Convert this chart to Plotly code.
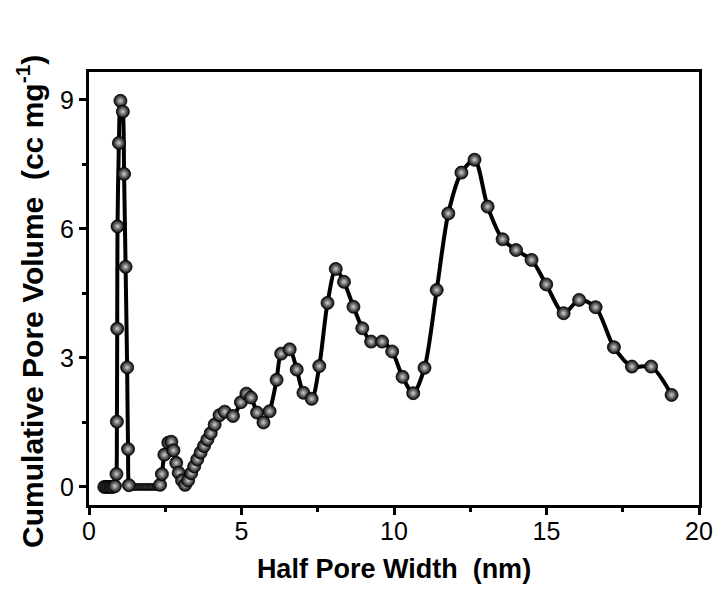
import plotly.graph_objects as go

# Main series: half pore width (nm) vs cumulative pore volume (cc mg^-1)
width_nm = [0.50, 0.57, 0.64, 0.71, 0.78, 0.85, 0.90, 0.915, 0.925, 0.935, 0.98, 1.03,
            1.11, 1.15, 1.20, 1.25, 1.28, 1.31,
            2.33, 2.39, 2.47, 2.60, 2.70, 2.77, 2.86, 2.94, 3.05, 3.15, 3.25, 3.35, 3.45,
            3.55, 3.66, 3.77, 3.88, 3.99, 4.12, 4.28, 4.45, 4.72, 4.98, 5.16, 5.31, 5.51,
            5.72, 5.92, 6.15, 6.30, 6.58, 6.81, 7.03, 7.30, 7.55, 7.82, 8.09, 8.36, 8.67,
            8.96, 9.25, 9.61, 9.94, 10.28, 10.63, 11.00, 11.40, 11.78, 12.21, 12.64, 13.07,
            13.56, 14.00, 14.51, 14.99, 15.56, 16.07, 16.61, 17.21, 17.80, 18.43, 19.10]
volume = [0.0, 0.0, 0.0, 0.0, 0.0, 0.02, 0.30, 1.52, 3.68, 6.06, 8.00, 8.98,
          8.73, 7.28, 5.12, 2.78, 0.88, 0.04,
          0.05, 0.30, 0.75, 1.03, 1.05, 0.85, 0.56, 0.33, 0.15, 0.05, 0.15, 0.32, 0.48,
          0.64, 0.80, 0.95, 1.10, 1.25, 1.45, 1.67, 1.75, 1.65, 1.97, 2.17, 2.08, 1.73,
          1.50, 1.76, 2.49, 3.10, 3.20, 2.73, 2.19, 2.05, 2.81, 4.28, 5.07, 4.77, 4.19,
          3.69, 3.38, 3.38, 3.15, 2.56, 2.18, 2.77, 4.58, 6.36, 7.31, 7.61, 6.52,
          5.76, 5.51, 5.28, 4.71, 4.04, 4.35, 4.18, 3.25, 2.80, 2.80, 2.14]

# Densely sampled flat region between the two features
gap_x = [1.35, 1.41, 1.47, 1.53, 1.59, 1.65, 1.71, 1.77, 1.83, 1.89, 1.95, 2.01,
         2.07, 2.13, 2.19, 2.25]
gap_y = [0.0] * len(gap_x)

x_ticks = [0, 5, 10, 15, 20]
y_ticks = [0, 3, 6, 9]
x_title = "Half Pore Width  (nm)"
y_title = "Cumulative Pore Volume  (cc mg<sup>-1</sup>)"

line_x = sorted(width_nm + gap_x)
pairs = dict(zip(width_nm + gap_x, volume + gap_y))
line_y = [pairs[v] for v in line_x]

fig = go.Figure()
fig.add_trace(go.Scatter(x=line_x, y=line_y, mode="lines",
                         line=dict(color="black", width=4, shape="spline", smoothing=0.8),
                         hoverinfo="skip", showlegend=False))
fig.add_trace(go.Scatter(x=gap_x, y=gap_y, mode="markers",
                         marker=dict(size=7, color="#080808",
                                     gradient=dict(type="radial", color="#aaaaaa"),
                                     line=dict(width=0.5, color="black")),
                         showlegend=False))
fig.add_trace(go.Scatter(x=width_nm, y=volume, mode="markers",
                         marker=dict(size=13, color="#050505",
                                     gradient=dict(type="radial", color="#d0d0d0"),
                                     line=dict(width=0.8, color="black")),
                         showlegend=False))

axis_common = dict(showline=True, linewidth=3, linecolor="black", mirror=True,
                   ticks="outside", ticklen=7, tickwidth=2.5, tickcolor="black",
                   showgrid=False, zeroline=False,
                   tickfont=dict(family="Liberation Sans, Arial", size=25, color="black"))

fig.update_layout(
    width=725, height=592,
    margin=dict(l=89, r=19, t=72, b=87),
    paper_bgcolor="white", plot_bgcolor="white",
    xaxis=dict(range=[0, 20], tickvals=x_ticks, ticklabelstandoff=-5,
               minor=dict(ticks="outside", ticklen=4, tickwidth=2.5, dtick=2.5, tickcolor="black"),
               title=dict(text="<b>" + x_title + "</b>", standoff=16,
                          font=dict(family="Liberation Sans, Arial", size=27, color="black")),
               **axis_common),
    yaxis=dict(range=[-0.42, 9.65], tickvals=y_ticks,
               minor=dict(ticks="outside", ticklen=4, tickwidth=2.5, dtick=1.5, tickcolor="black"),
               **axis_common),
    annotations=[dict(text="<b>" + y_title + "</b>", textangle=-90,
                      xref="paper", yref="paper", x=-0.096, y=0.47,
                      xanchor="center", yanchor="middle", showarrow=False,
                      font=dict(family="Liberation Sans, Arial", size=30, color="black"))],
)

fig.write_html("out.html")
